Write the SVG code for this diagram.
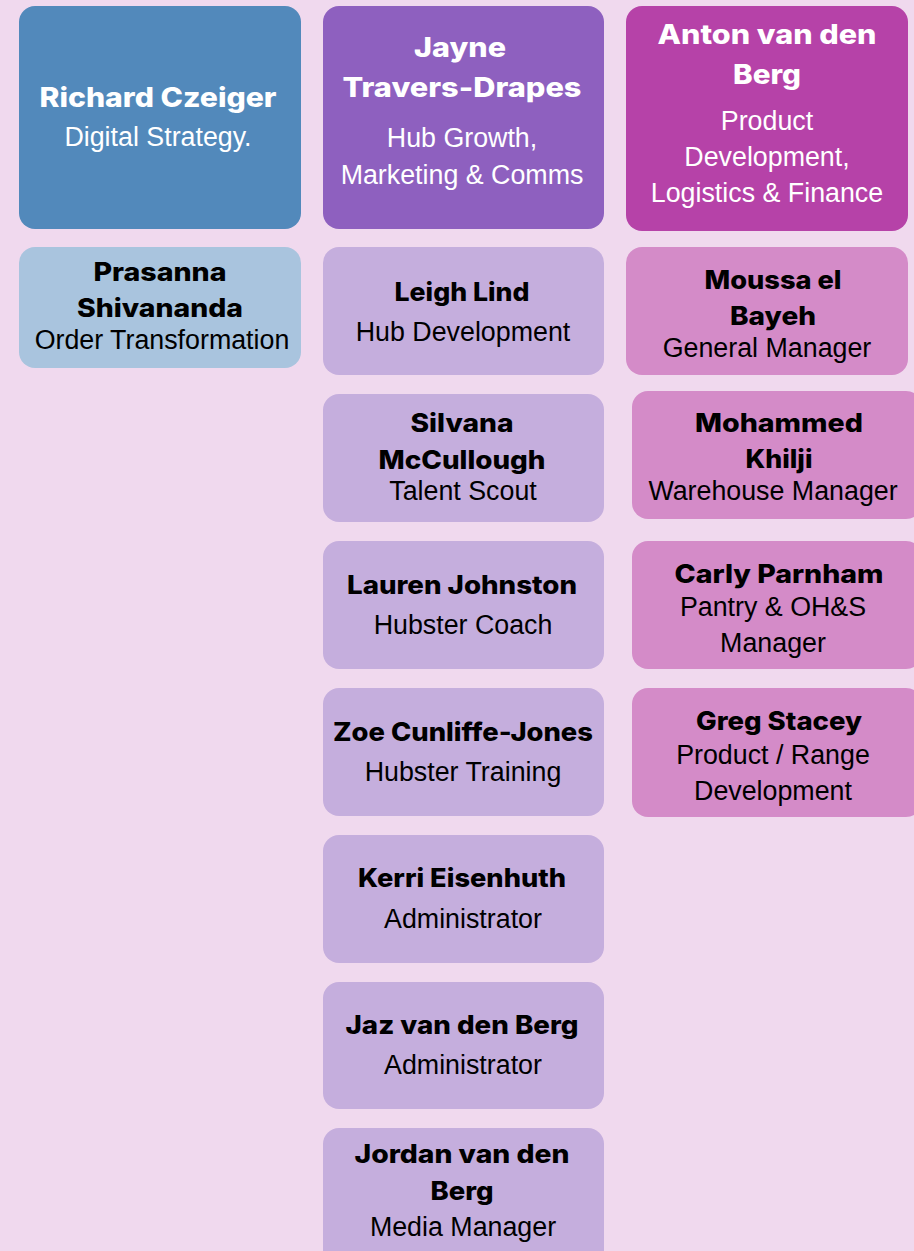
<svg xmlns="http://www.w3.org/2000/svg" width="914" height="1251" viewBox="0 0 914 1251">
<style>
.n{font-family:Inter,"Noto Sans",sans-serif;font-weight:800;font-size:25.5px;text-anchor:middle;fill:#000}
.hn{font-family:Inter,"Noto Sans",sans-serif;font-weight:800;font-size:27px;text-anchor:middle;fill:#fff}
.d{font-family:"Liberation Sans",Arial,sans-serif;font-size:26.8px;text-anchor:middle;fill:#000}
.hd{font-family:"Liberation Sans",Arial,sans-serif;font-size:26.8px;text-anchor:middle;fill:#fff}
.blue{fill:#5289bb}.lblue{fill:#a9c4de}.purp{fill:#8e60bf}.lpurp{fill:#c5aedd}.mag{fill:#b642a8}.pink{fill:#d48bc8}
</style>
<rect width="914" height="1251" fill="#f0d9ee"/>
<g id="connectors"/>
<g id="richard"><rect class="blue" x="19" y="6" width="282" height="223" rx="16"/>
<text class="hn" x="158" y="107" textLength="237" lengthAdjust="spacingAndGlyphs">Richard Czeiger</text>
<text class="hd" x="158" y="146">Digital Strategy.</text></g>
<g id="prasanna"><rect class="lblue" x="19" y="247" width="282" height="121" rx="16"/>
<text class="n" x="160" y="281" textLength="133" lengthAdjust="spacingAndGlyphs">Prasanna</text>
<text class="n" x="160" y="317" textLength="166" lengthAdjust="spacingAndGlyphs">Shivananda</text>
<text class="d" x="162" y="349">Order Transformation</text></g>
<g id="jayne"><rect class="purp" x="323" y="6" width="281" height="223" rx="16"/>
<text class="hn" x="460" y="57" textLength="92" lengthAdjust="spacingAndGlyphs">Jayne</text>
<text class="hn" x="462" y="97" textLength="239" lengthAdjust="spacingAndGlyphs">Travers-Drapes</text>
<text class="hd" x="462" y="147">Hub Growth,</text>
<text class="hd" x="462" y="184">Marketing &amp; Comms</text></g>
<g id="anton"><rect class="mag" x="626" y="6" width="282" height="225" rx="16"/>
<text class="hn" x="767" y="44" textLength="219" lengthAdjust="spacingAndGlyphs">Anton van den</text>
<text class="hn" x="767" y="84" textLength="68" lengthAdjust="spacingAndGlyphs">Berg</text>
<text class="hd" x="767" y="130">Product</text>
<text class="hd" x="767" y="166">Development,</text>
<text class="hd" x="767" y="202">Logistics &amp; Finance</text></g>
<g id="leigh"><rect class="lpurp" x="323" y="247" width="281" height="128" rx="16"/>
<text class="n" x="462" y="301" textLength="135" lengthAdjust="spacingAndGlyphs">Leigh Lind</text>
<text class="d" x="463" y="341">Hub Development</text></g>
<g id="silvana"><rect class="lpurp" x="323" y="394" width="281" height="128" rx="16"/>
<text class="n" x="462" y="432" textLength="103" lengthAdjust="spacingAndGlyphs">Silvana</text>
<text class="n" x="462" y="469" textLength="167" lengthAdjust="spacingAndGlyphs">McCullough</text>
<text class="d" x="463" y="500">Talent Scout</text></g>
<g id="lauren"><rect class="lpurp" x="323" y="541" width="281" height="128" rx="16"/>
<text class="n" x="462" y="594" textLength="230" lengthAdjust="spacingAndGlyphs">Lauren Johnston</text>
<text class="d" x="463" y="634">Hubster Coach</text></g>
<g id="zoe"><rect class="lpurp" x="323" y="688" width="281" height="128" rx="16"/>
<text class="n" x="463" y="741" textLength="260" lengthAdjust="spacingAndGlyphs">Zoe Cunliffe-Jones</text>
<text class="d" x="463" y="781">Hubster Training</text></g>
<g id="kerri"><rect class="lpurp" x="323" y="835" width="281" height="128" rx="16"/>
<text class="n" x="462" y="887" textLength="208" lengthAdjust="spacingAndGlyphs">Kerri Eisenhuth</text>
<text class="d" x="463" y="928">Administrator</text></g>
<g id="jaz"><rect class="lpurp" x="323" y="982" width="281" height="127" rx="16"/>
<text class="n" x="462" y="1034" textLength="233" lengthAdjust="spacingAndGlyphs">Jaz van den Berg</text>
<text class="d" x="463" y="1074">Administrator</text></g>
<g id="jordan"><rect class="lpurp" x="323" y="1128" width="281" height="140" rx="16"/>
<text class="n" x="462" y="1163" textLength="215" lengthAdjust="spacingAndGlyphs">Jordan van den</text>
<text class="n" x="462" y="1200" textLength="63" lengthAdjust="spacingAndGlyphs">Berg</text>
<text class="d" x="463" y="1236">Media Manager</text></g>
<g id="moussa"><rect class="pink" x="626" y="247" width="282" height="128" rx="16"/>
<text class="n" x="773" y="289" textLength="137" lengthAdjust="spacingAndGlyphs">Moussa el</text>
<text class="n" x="773" y="325" textLength="86" lengthAdjust="spacingAndGlyphs">Bayeh</text>
<text class="d" x="767" y="357">General Manager</text></g>
<g id="mohammed"><rect class="pink" x="632" y="391" width="290" height="128" rx="16"/>
<text class="n" x="779" y="432" textLength="168" lengthAdjust="spacingAndGlyphs">Mohammed</text>
<text class="n" x="779" y="468" textLength="67" lengthAdjust="spacingAndGlyphs">Khilji</text>
<text class="d" x="773" y="500">Warehouse Manager</text></g>
<g id="carly"><rect class="pink" x="632" y="541" width="290" height="128" rx="16"/>
<text class="n" x="779" y="583" textLength="209" lengthAdjust="spacingAndGlyphs">Carly Parnham</text>
<text class="d" x="773" y="616">Pantry &amp; OH&amp;S</text>
<text class="d" x="773" y="652">Manager</text></g>
<g id="greg"><rect class="pink" x="632" y="688" width="290" height="129" rx="16"/>
<text class="n" x="779" y="730" textLength="166" lengthAdjust="spacingAndGlyphs">Greg Stacey</text>
<text class="d" x="773" y="764">Product / Range</text>
<text class="d" x="773" y="800">Development</text></g>
</svg>
